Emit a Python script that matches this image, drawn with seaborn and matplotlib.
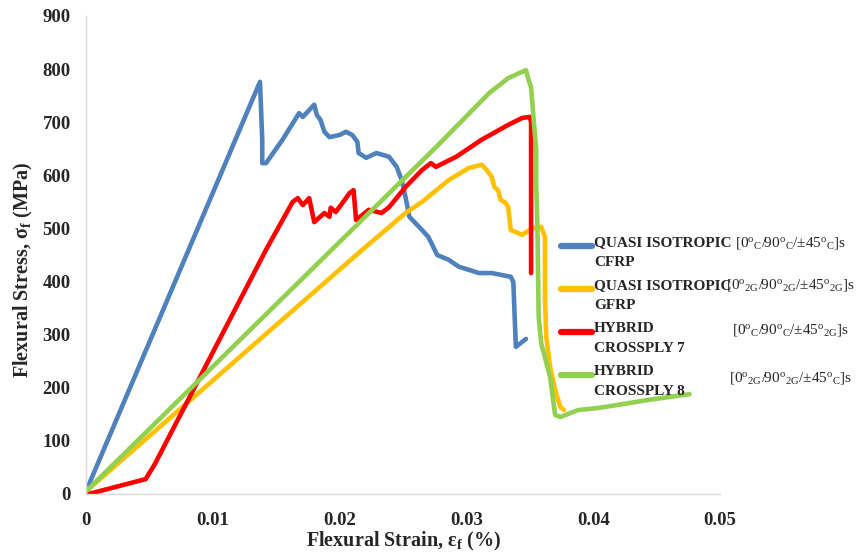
import matplotlib
matplotlib.use("Agg")
import matplotlib.pyplot as plt
from matplotlib.lines import Line2D
from matplotlib.legend_handler import HandlerLine2D
import seaborn as sns
import pandas as pd

# ---------------- data (strain, stress in MPa) ----------------
series_names = ["QUASI ISOTROPIC\nCFRP", "QUASI ISOTROPIC\nGFRP",
                "HYBRID\nCROSSPLY 7", "HYBRID\nCROSSPLY 8"]
layups = [r"$\mathrm{[0^{o}{}_{C}/90^{o}{}_{C}/{\pm}45^{o}{}_{C}]s}$",
          r"$\mathrm{[0^{o}{}_{2G}/90^{o}{}_{2G}/{\pm}45^{o}{}_{2G}]s}$",
          r"$\mathrm{[0^{o}{}_{C}/90^{o}{}_{C}/{\pm}45^{o}{}_{2G}]s}$",
          r"$\mathrm{[0^{o}{}_{2G}/90^{o}{}_{2G}/{\pm}45^{o}{}_{C}]s}$"]
colors = ["#4F81BD", "#FFC000", "#FF0000", "#92D050"]

cfrp_x = [0.0, 0.01372, 0.0139, 0.0139, 0.0142, 0.0155, 0.0168, 0.0171, 0.018, 0.0182,
          0.0185, 0.0188, 0.0192, 0.02, 0.0205, 0.021, 0.0214, 0.0215, 0.0221, 0.0229,
          0.0239, 0.0245, 0.0249, 0.0252, 0.0255, 0.0265, 0.027, 0.0277, 0.0286, 0.0294,
          0.031, 0.032, 0.0335, 0.0337, 0.0339, 0.0347]
cfrp_y = [5, 776, 667, 623, 623, 667, 717, 710, 733, 714,
          704, 682, 672, 676, 682, 676, 663, 642, 633, 642,
          635, 616, 591, 559, 522, 497, 484, 450, 441, 428,
          416, 416, 409, 399, 277, 292]

gfrp_x = [0.0, 0.0218, 0.0252, 0.0265, 0.0286, 0.0302, 0.0312, 0.0316, 0.032, 0.0322,
          0.0325, 0.0327, 0.0331, 0.0333, 0.0335, 0.0344, 0.035, 0.0353, 0.0359, 0.0362,
          0.0362, 0.0363, 0.0366, 0.037, 0.0374, 0.0377]
gfrp_y = [5, 460, 529, 550, 591, 614, 620, 610, 597, 578,
          572, 554, 548, 540, 497, 488, 497, 501, 503, 484,
          365, 296, 239, 196, 164, 158]

hyb7_x = [0.0002, 0.0047, 0.0054, 0.0142, 0.0163, 0.0167, 0.0171, 0.0176, 0.018, 0.0188,
          0.0192, 0.0193, 0.0197, 0.0208, 0.0211, 0.0213, 0.0223, 0.023, 0.0233, 0.0239,
          0.0252, 0.0265, 0.0272, 0.0276, 0.0292, 0.0312, 0.0333, 0.0344, 0.035, 0.0351,
          0.0351]
hyb7_y = [0, 28, 55, 460, 550, 557, 544, 557, 512, 529,
          522, 539, 531, 567, 572, 516, 535, 531, 529, 540,
          578, 610, 623, 616, 635, 667, 695, 708, 710, 700,
          416]

hyb8_x = [0.0, 0.0276, 0.0297, 0.0318, 0.0333, 0.0344, 0.0347, 0.0349, 0.0351, 0.0355,
          0.0355, 0.0356, 0.0357, 0.0359, 0.0366, 0.037, 0.0374, 0.0388, 0.0404, 0.042,
          0.0443, 0.0476]
hyb8_y = [5, 653, 704, 755, 783, 795, 798, 780, 766, 648,
          586, 503, 333, 284, 220, 149, 145, 158, 162, 168,
          177, 188]

x_ticks = [0, 0.01, 0.02, 0.03, 0.04, 0.05]
x_tick_labels = ["0", "0.01", "0.02", "0.03", "0.04", "0.05"]
y_ticks = [0, 100, 200, 300, 400, 500, 600, 700, 800, 900]

# ---------------- styling ----------------
sns.set_style("white")
plt.rcParams["font.family"] = ["Liberation Serif", "DejaVu Serif"]
plt.rcParams["mathtext.fontset"] = "custom"
plt.rcParams["mathtext.rm"] = "Liberation Serif"
plt.rcParams["mathtext.bf"] = "Liberation Serif:bold"
plt.rcParams["mathtext.it"] = "Liberation Serif:italic"

frames = []
for name, xs, ys in zip(series_names,
                        [cfrp_x, gfrp_x, hyb7_x, hyb8_x],
                        [cfrp_y, gfrp_y, hyb7_y, hyb8_y]):
    frames.append(pd.DataFrame({"strain": xs, "stress": ys, "series": name}))
df = pd.concat(frames, ignore_index=True)

fig = plt.figure(figsize=(8.56, 5.55), dpi=100)
ax = fig.add_axes([86 / 856, 61 / 555, 634 / 856, 478 / 555])

sns.lineplot(data=df, x="strain", y="stress", hue="series", hue_order=series_names,
             palette=colors, sort=False, estimator=None, units="series",
             linewidth=3.3, legend=False, ax=ax)
for ln in ax.get_lines():
    ln.set_solid_capstyle("round")
    ln.set_solid_joinstyle("round")

ax.set_xlim(0, 0.05)
ax.set_ylim(0, 900)
ax.set_xticks(x_ticks)
ax.set_xticklabels(x_tick_labels)
ax.set_yticks(y_ticks)
ax.tick_params(axis="both", length=0, labelsize=13.5)
ax.tick_params(axis="x", pad=13)
ax.tick_params(axis="y", pad=11)
for lab in ax.get_xticklabels() + ax.get_yticklabels():
    lab.set_fontweight("bold")

for s in ["top", "right"]:
    ax.spines[s].set_visible(False)
for s in ["left", "bottom"]:
    ax.spines[s].set_color("#D9D9D9")
    ax.spines[s].set_linewidth(1.0)

ax.set_xlabel(r"Flexural Strain, ε$_{\mathbf{f}}$ (%)", fontsize=14.5, fontweight="bold",
              labelpad=1)
ax.set_ylabel(r"Flexural Stress, σ$_{\mathbf{f}}$ (MPa)", fontsize=14.5, fontweight="bold")
ax.yaxis.set_label_coords(-0.08, 0.47)


class UpHandler(HandlerLine2D):
    def __init__(self, dy, **kw):
        super().__init__(**kw)
        self.dy = dy

    def create_artists(self, legend, orig_handle, xdescent, ydescent, width, height,
                       fontsize, trans):
        return super().create_artists(legend, orig_handle, xdescent, ydescent - self.dy,
                                      width, height, fontsize, trans)


handles = [Line2D([], [], color=c, lw=4.5, solid_capstyle="round") for c in colors]
leg = ax.legend(handles=handles, labels=series_names, loc="upper left",
                bbox_to_anchor=(561 / 856, (555 - 236) / 555), bbox_transform=fig.transFigure,
                frameon=False,
                prop={"family": "Liberation Serif", "weight": "bold", "size": 11},
                handlelength=2.0, handletextpad=0.15, labelspacing=0.62, borderpad=0,
                borderaxespad=0, handler_map={Line2D: UpHandler(9)})
for t in leg.get_texts():
    t.set_linespacing(1.75)

layup_y = [243, 285, 330, 378]
for txt, yy in zip(layups, layup_y):
    fig.text(791 / 856, (555 - yy) / 555, txt, ha="center", va="center", fontsize=11)

fig.savefig("out.png", dpi=100)
